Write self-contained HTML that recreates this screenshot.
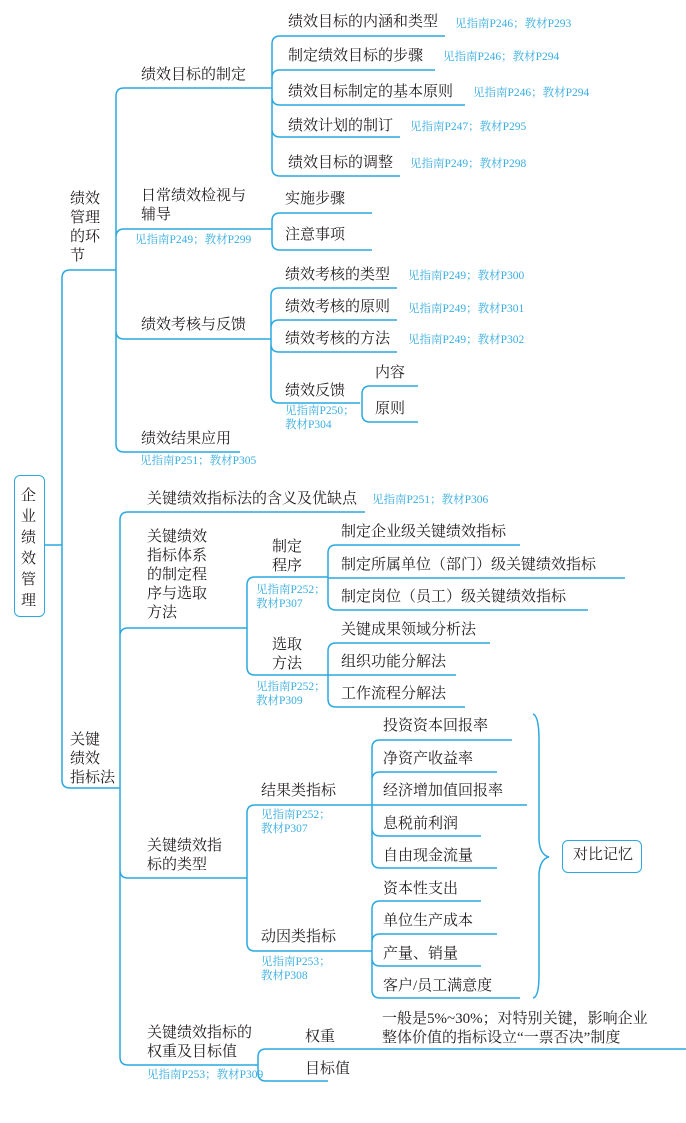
<!DOCTYPE html>
<html><head><meta charset="utf-8"><style>
html,body{margin:0;padding:0;background:#fff;}
#c{position:relative;width:686px;height:1123px;overflow:hidden;font-family:"Liberation Serif","Noto Serif CJK SC",serif;color:#231f20;}
.t{position:absolute;font-size:15px;line-height:19px;white-space:nowrap;}
.r{position:absolute;font-size:11.5px;line-height:14px;color:#3aaee2;white-space:nowrap;}
svg{position:absolute;left:0;top:0;}
.box{position:absolute;border:1.5px solid #2aa9e0;border-radius:6px;background:#fff;}
</style></head><body><div id="c">
<svg id="s" width="686" height="1123" fill="none" stroke="#2aa9e0" stroke-width="1.5">
<path d="M533,714 Q539,716 539,740 L539,840 Q540,855 549,857 Q540,859 539,874 L539,975 Q539,997 533,998"/>
</svg>
<div class="box" style="left:14px;top:475px;width:29px;height:140px;"></div>
<div class="t" style="left:21px;top:486px;width:16px;white-space:normal;line-height:21px;">企业绩效管理</div>
<div class="box" style="left:562px;top:840px;width:78px;height:31px;"></div>
<div class="t" style="left:573px;top:846px;">对比记忆</div>

<div class="t" style="left:70px;top:190px;">绩效<br>管理<br>的环<br>节</div>
<div class="t" style="left:141px;top:66px;">绩效目标的制定</div>
<div class="t" style="left:288px;top:13px;">绩效目标的内涵和类型</div><div class="r" style="left:455px;top:17px;">见指南P246；教材P293</div>
<div class="t" style="left:288px;top:47px;">制定绩效目标的步骤</div><div class="r" style="left:443px;top:50px;">见指南P246；教材P294</div>
<div class="t" style="left:288px;top:83px;">绩效目标制定的基本原则</div><div class="r" style="left:473px;top:86px;">见指南P246；教材P294</div>
<div class="t" style="left:288px;top:117px;">绩效计划的制订</div><div class="r" style="left:410px;top:120px;">见指南P247；教材P295</div>
<div class="t" style="left:288px;top:154px;">绩效目标的调整</div><div class="r" style="left:410px;top:157px;">见指南P249；教材P298</div>
<div class="t" style="left:141px;top:187px;">日常绩效检视与<br>辅导</div>
<div class="r" style="left:135px;top:233px;">见指南P249；教材P299</div>
<div class="t" style="left:285px;top:190px;">实施步骤</div>
<div class="t" style="left:285px;top:226px;">注意事项</div>
<div class="t" style="left:141px;top:316px;">绩效考核与反馈</div>
<div class="t" style="left:285px;top:266px;">绩效考核的类型</div><div class="r" style="left:408px;top:269px;">见指南P249；教材P300</div>
<div class="t" style="left:285px;top:298px;">绩效考核的原则</div><div class="r" style="left:408px;top:302px;">见指南P249；教材P301</div>
<div class="t" style="left:285px;top:330px;">绩效考核的方法</div><div class="r" style="left:408px;top:333px;">见指南P249；教材P302</div>
<div class="t" style="left:285px;top:382px;">绩效反馈</div>
<div class="r" style="left:285px;top:404px;">见指南P250；<br>教材P304</div>
<div class="t" style="left:375px;top:364px;">内容</div>
<div class="t" style="left:375px;top:400px;">原则</div>
<div class="t" style="left:141px;top:430px;">绩效结果应用</div>
<div class="r" style="left:140px;top:454px;">见指南P251；教材P305</div>

<div class="t" style="left:70px;top:731px;">关键<br>绩效<br>指标法</div>
<div class="t" style="left:147px;top:490px;">关键绩效指标法的含义及优缺点</div><div class="r" style="left:372px;top:493px;">见指南P251；教材P306</div>
<div class="t" style="left:147px;top:528px;">关键绩效<br>指标体系<br>的制定程<br>序与选取<br>方法</div>
<div class="t" style="left:272px;top:538px;">制定<br>程序</div>
<div class="r" style="left:256px;top:583px;">见指南P252；<br>教材P307</div>
<div class="t" style="left:341px;top:523px;">制定企业级关键绩效指标</div>
<div class="t" style="left:341px;top:556px;">制定所属单位（部门）级关键绩效指标</div>
<div class="t" style="left:341px;top:588px;">制定岗位（员工）级关键绩效指标</div>
<div class="t" style="left:272px;top:636px;">选取<br>方法</div>
<div class="r" style="left:256px;top:680px;">见指南P252；<br>教材P309</div>
<div class="t" style="left:341px;top:621px;">关键成果领域分析法</div>
<div class="t" style="left:341px;top:653px;">组织功能分解法</div>
<div class="t" style="left:341px;top:685px;">工作流程分解法</div>
<div class="t" style="left:147px;top:837px;">关键绩效指<br>标的类型</div>
<div class="t" style="left:261px;top:782px;">结果类指标</div>
<div class="r" style="left:261px;top:808px;">见指南P252；<br>教材P307</div>
<div class="t" style="left:383px;top:717px;">投资资本回报率</div>
<div class="t" style="left:383px;top:750px;">净资产收益率</div>
<div class="t" style="left:383px;top:782px;">经济增加值回报率</div>
<div class="t" style="left:383px;top:815px;">息税前利润</div>
<div class="t" style="left:383px;top:847px;">自由现金流量</div>
<div class="t" style="left:261px;top:928px;">动因类指标</div>
<div class="r" style="left:261px;top:955px;">见指南P253；<br>教材P308</div>
<div class="t" style="left:383px;top:880px;">资本性支出</div>
<div class="t" style="left:383px;top:912px;">单位生产成本</div>
<div class="t" style="left:383px;top:945px;">产量、销量</div>
<div class="t" style="left:383px;top:977px;">客户/员工满意度</div>
<div class="t" style="left:147px;top:1024px;">关键绩效指标的<br>权重及目标值</div>
<div class="r" style="left:147px;top:1068px;">见指南P253；教材P309</div>
<div class="t" style="left:305px;top:1028px;">权重</div>
<div class="t" style="left:382px;top:1010px;">一般是5%~30%；对特别关键，影响企业<br>整体价值的指标设立“一票否决”制度</div>
<div class="t" style="left:305px;top:1060px;">目标值</div>
</div>
<script>
var s=document.getElementById('s'),d='M45,545 H62 ';
function b(xv,yp,yc,xe){var r=8;
 if(Math.abs(yc-yp)<r){d+='M'+xv+','+yc+' H'+xe+' ';return;}
 var sg=yc<yp?1:-1;
 d+='M'+xv+','+yp+' V'+(yc+sg*r)+' Q'+xv+','+yc+' '+(xv+r)+','+yc+' H'+xe+' ';}
function g(xv,yp,arr){arr.forEach(function(a){b(xv,yp,a[0],a[1]);});}
g(62,545,[[270,116],[788,120]]);
g(116,270,[[88,272],[229,272],[339,271],[452,240]]);
g(272,88,[[36,445],[70,435],[105,465],[137,400],[176,400]]);
g(272,229,[[213,372],[250,372]]);
g(271,339,[[288,397],[320,397],[352,397],[403,360]]);
g(362,403,[[386,418],[422,418]]);
g(120,788,[[512,365],[628,247],[878,247],[1065,258]]);
g(247,628,[[577,328],[675,328]]);
g(328,577,[[545,520],[578,625],[610,588]]);
g(328,675,[[643,490],[675,456],[707,465]]);
g(247,878,[[805,372],[951,372]]);
g(372,805,[[740,512],[772,497],[805,527],[836,481],[868,497]]);
g(372,951,[[901,481],[934,497],[966,481],[998,520]]);
g(258,1065,[[1049,686],[1081,328]]);
var p=document.createElementNS('http://www.w3.org/2000/svg','path');p.setAttribute('d',d);s.appendChild(p);
</script>
</body></html>
